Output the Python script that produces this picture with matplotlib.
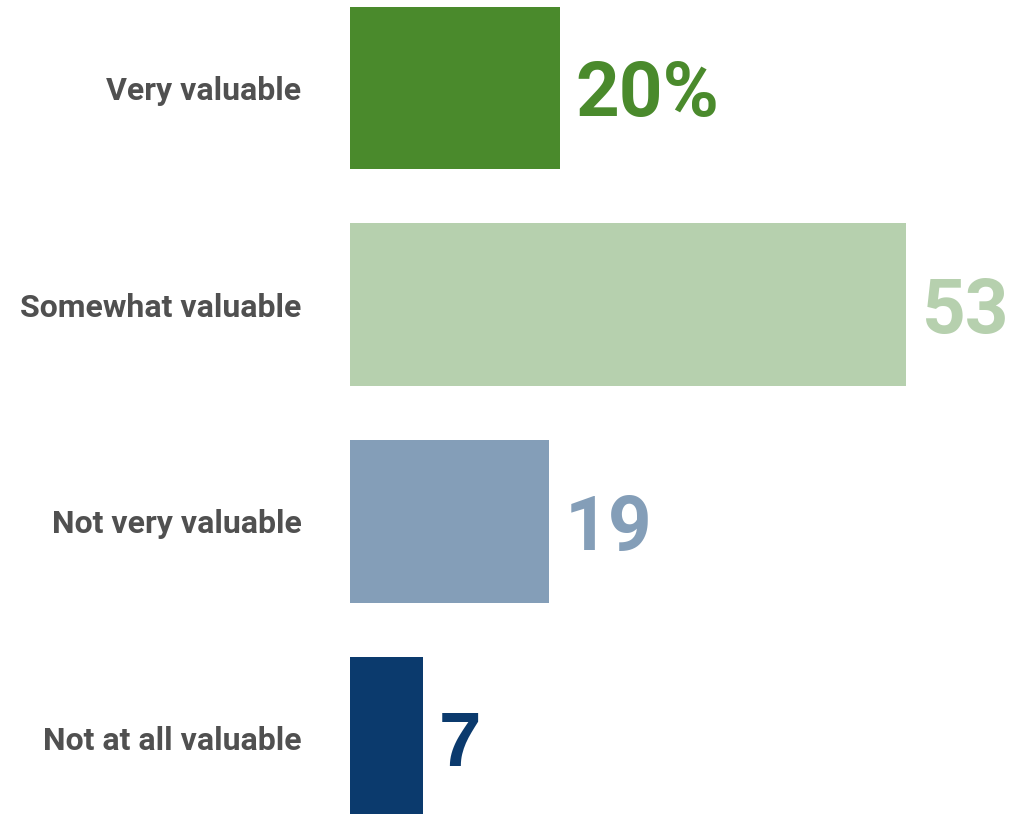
import matplotlib
matplotlib.use('Agg')
from matplotlib import pyplot as plt

categories = ['Very valuable', 'Somewhat valuable', 'Not very valuable', 'Not at all valuable']
values = [20, 53, 19, 7]
value_labels = ['20%', '53', '19', '7']
colors = ['#4a8a2c', '#b6d0ae', '#849eb8', '#0b3a6d']

fig = plt.figure(figsize=(10.10, 8.14), dpi=100)
ax = fig.add_axes([350 / 1010, 0, 660 / 1010, 1])

pos = range(len(categories))
ax.barh(pos, values, height=0.75, color=colors)
ax.set_xlim(0, 660 / 10.49)
ax.set_ylim(3.35, -0.406)

for i, (v, lab, c) in enumerate(zip(values, value_labels, colors)):
    fam = 'Liberation Sans' if lab == '7' else 'Roboto'
    ax.text(v + 1.5, i + 0.13, lab, va='baseline', ha='left', color=c,
            fontsize=55, fontweight='bold', family=fam)

ax.set_yticks(list(pos))
ax.set_yticklabels(categories, fontsize=23, fontweight='semibold', color='#505050', family='Roboto')
ax.tick_params(axis='y', length=0, pad=35)
ax.set_xticks([])
for s in ax.spines.values():
    s.set_visible(False)

fig.savefig('out.png', dpi=100)
